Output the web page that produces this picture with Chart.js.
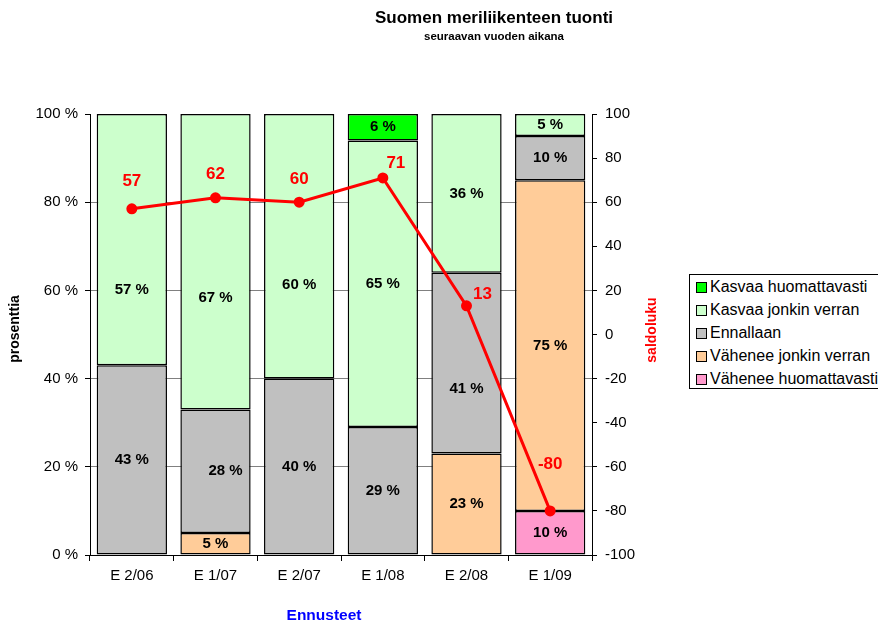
<!doctype html>
<html lang="fi">
  <head>
    <meta charset="utf-8">
    <title>Suomen meriliikenteen tuonti</title>
    <style>
      * {
        margin: 0;
        padding: 0;
        font-family: "Liberation Sans", Arial, sans-serif;
      }
      body {
        background: #fff;
      }
      .chartBox {
        position: relative;
        width: 878px;
        height: 627px;
        overflow: hidden;
      }
      .legend {
        position: absolute;
        left: 689px;
        top: 274px;
        width: 200px;
        height: 113px;
        border: 1px solid #000;
        background: #fff;
        padding-top: 0;
      }
      .legend div {
        height: 23px;
        line-height: 23px;
        font-size: 16px;
        color: #000;
        white-space: nowrap;
      }
      .legend span {
        display: inline-block;
        width: 9px;
        height: 9px;
        border: 1px solid #000;
        margin: 0 3px 0 6px;
        vertical-align: -1px;
      }
    </style>
  </head>
  <body>
    <div class="chartBox">
      <canvas id="myChart" width="878" height="627"></canvas>
      <div class="legend" id="legend"></div>
    </div>
    <script src="https://cdn.jsdelivr.net/npm/chart.js"></script>
    <script>
    // data
    const categories = ['E 2/06', 'E 1/07', 'E 2/07', 'E 1/08', 'E 2/08', 'E 1/09'];
    const vaheneeHuom = [null, null, null, null, null, 10];
    const vaheneeJonkin = [null, 5, null, null, 23, 75];
    const ennallaan = [43, 28, 40, 29, 41, 10];
    const kasvaaJonkin = [57, 67, 60, 65, 36, 5];
    const kasvaaHuom = [null, null, null, 6, null, null];
    const saldoluku = [57, 62, 60, 71, 13, -80];
    const leftTicks = [0, 20, 40, 60, 80, 100];
    const rightTicks = [-100, -80, -60, -40, -20, 0, 20, 40, 60, 80, 100];

    const FONT = '"Liberation Sans", Arial, sans-serif';

    function barSet(label, values, color) {
      return {
        type: 'bar',
        label: label,
        data: values,
        backgroundColor: color,
        borderColor: '#000',
        borderWidth: 1.5,
        borderSkipped: false,
        barPercentage: 0.84,
        categoryPercentage: 1,
        yAxisID: 'y',
        order: 1
      };
    }

    const datasets = [
      barSet('Vähenee huomattavasti', vaheneeHuom, '#FF99CC'),
      barSet('Vähenee jonkin verran', vaheneeJonkin, '#FFCC99'),
      barSet('Ennallaan', ennallaan, '#C0C0C0'),
      barSet('Kasvaa jonkin verran', kasvaaJonkin, '#CCFFCC'),
      barSet('Kasvaa huomattavasti', kasvaaHuom, '#00FF00'),
      {
        type: 'line',
        label: 'saldoluku',
        data: saldoluku,
        borderColor: '#FF0000',
        backgroundColor: '#FF0000',
        borderWidth: 3,
        pointRadius: 4,
        pointHoverRadius: 4,
        tension: 0,
        yAxisID: 'y2',
        order: 0
      }
    ];

    // legend, top to bottom as in the picture
    const legendEl = document.getElementById('legend');
    datasets.slice(0, 5).reverse().forEach(ds => {
      const row = document.createElement('div');
      const sw = document.createElement('span');
      sw.style.background = ds.backgroundColor;
      row.appendChild(sw);
      row.appendChild(document.createTextNode(ds.label));
      legendEl.appendChild(row);
    });

    // label nudges (px) where the original labels were moved aside
    const barNudge = { '3:0': [0, 50], '3:1': [0, 36], '3:2': [0, 39], '2:4': [0, 26], '2:1': [10, 0] };
    const lineNudge = { 0: [0, -28], 3: [13, -15], 4: [16, -12], 5: [0, -47] };

    const labelsPlugin = {
      id: 'labels',
      afterDatasetsDraw(chart) {
        const ctx = chart.ctx;
        ctx.save();
        ctx.textAlign = 'center';
        ctx.textBaseline = 'middle';
        chart.data.datasets.forEach((ds, di) => {
          const meta = chart.getDatasetMeta(di);
          meta.data.forEach((el, i) => {
            const v = ds.data[i];
            if (v === null || v === undefined) return;
            if (ds.type === 'bar') {
              const n = barNudge[di + ':' + i] || [0, 0];
              ctx.font = 'bold 15px ' + FONT;
              ctx.fillStyle = '#000';
              ctx.fillText(v + ' %', el.x + n[0], (el.y + el.base) / 2 + n[1]);
            } else {
              const n = lineNudge[i] || [0, -23];
              ctx.font = 'bold 17px ' + FONT;
              ctx.fillStyle = '#FF0000';
              ctx.fillText(String(v), el.x + n[0], el.y + n[1]);
            }
          });
        });
        ctx.restore();
      }
    };

    const titlesPlugin = {
      id: 'titles',
      afterDraw(chart) {
        const ctx = chart.ctx;
        ctx.save();
        ctx.textAlign = 'center';
        ctx.textBaseline = 'middle';
        ctx.fillStyle = '#000';
        ctx.font = 'bold 17px ' + FONT;
        ctx.fillText('Suomen meriliikenteen tuonti', 494, 18);
        ctx.font = 'bold 11.5px ' + FONT;
        ctx.fillText('seuraavan vuoden aikana', 494, 37);
        ctx.font = 'bold 15.5px ' + FONT;
        ctx.fillStyle = '#0000FF';
        ctx.fillText('Ennusteet', 324, 616);
        ctx.font = 'bold 14px ' + FONT;
        ctx.fillStyle = '#000';
        ctx.translate(15, 329);
        ctx.rotate(-Math.PI / 2);
        ctx.fillText('prosenttia', 0, 0);
        ctx.restore();
        ctx.save();
        ctx.textAlign = 'center';
        ctx.textBaseline = 'middle';
        ctx.font = 'bold 14px ' + FONT;
        ctx.fillStyle = '#FF0000';
        ctx.translate(652, 330);
        ctx.rotate(-Math.PI / 2);
        ctx.fillText('saldoluku', 0, 0);
        ctx.restore();
      }
    };

    const config = {
      data: { labels: categories, datasets },
      options: {
        responsive: false,
        animation: false,
        layout: { padding: { left: 0, right: 206, top: 114, bottom: 0 } },
        plugins: {
          legend: { display: false },
          tooltip: { enabled: false }
        },
        scales: {
          x: {
            stacked: true,
            offset: true,
            grid: { offset: true, drawOnChartArea: false, tickLength: 6, color: '#000' },
            border: { color: '#000', width: 1 },
            ticks: { color: '#000', font: { size: 15, family: FONT }, padding: 6, maxRotation: 0 },
            afterFit(s) { s.height = 72; }
          },
          y: {
            stacked: true,
            min: 0,
            max: 100,
            afterBuildTicks(s) { s.ticks = leftTicks.map(v => ({ value: v })); },
            grid: {
              color: c => (c.tick && (c.tick.value === 0 || c.tick.value === 100)) ? 'rgba(0,0,0,0)' : '#808080',
              tickColor: '#000',
              tickLength: 5
            },
            border: { color: '#000', width: 1 },
            ticks: { color: '#000', font: { size: 15, family: FONT }, padding: 7, callback: v => v + ' %' },
            afterFit(s) { s.width = 90; }
          },
          y2: {
            position: 'right',
            stacked: false,
            min: -100,
            max: 100,
            afterBuildTicks(s) { s.ticks = rightTicks.map(v => ({ value: v })); },
            grid: { drawOnChartArea: false, tickColor: '#000', tickLength: 5 },
            border: { color: '#000', width: 1 },
            ticks: { color: '#000', font: { size: 15, family: FONT }, padding: 8 },
            afterFit(s) { s.width = 80; }
          }
        }
      },
      plugins: [labelsPlugin, titlesPlugin]
    };

    const myChart = new Chart(document.getElementById('myChart'), config);
    </script>
  </body>
</html>
